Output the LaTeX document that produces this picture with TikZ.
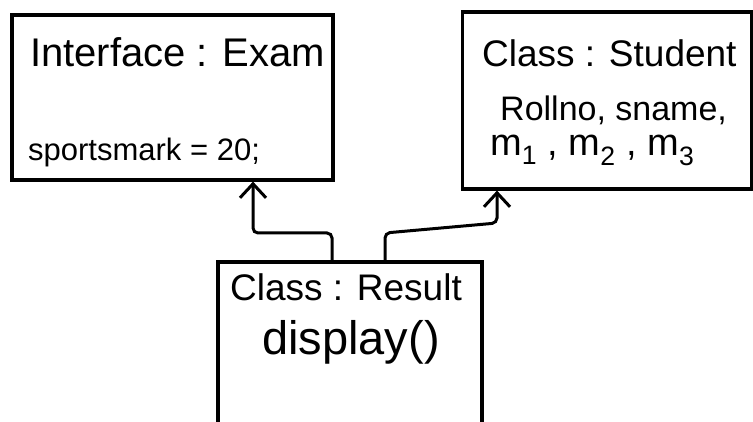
\documentclass[tikz,border=0pt]{standalone}
\usepackage{fontspec}
\setmainfont{Liberation Sans}
\usetikzlibrary{arrows.meta}
\tikzset{
  box/.style={draw=black, line width=3.2pt, rectangle, inner sep=0pt},
  conn/.style={draw=black, line width=3pt, rounded corners=5pt, -{Straight Barb[length=14pt,width=26pt,line width=3pt]}},
  lbl/.style={anchor=west, inner sep=0pt, text=black},
}
\begin{document}
\begin{tikzpicture}[x=1pt,y=-1pt]
\useasboundingbox[fill=white] (0,0) rectangle (753,422);
% boxes
\node[box, minimum width=321pt, minimum height=165pt] (exam) at (172.5,97.5) {};
\node[box, minimum width=289pt, minimum height=177pt] (student) at (607,100.5) {};
\node[box, minimum width=264pt, minimum height=180pt] (result) at (350,352) {};
% texts
\node[lbl] (t1) at (30,52) {\fontsize{40}{46}\selectfont Interface : Exam};
\node[lbl] (t2) at (28,152) {\fontsize{31}{36}\selectfont sportsmark = 20;};
\node[lbl] (t3) at (482,53) {\fontsize{37}{42}\selectfont Class : Student};
\node[lbl] (t4) at (500,110) {\fontsize{34}{40}\selectfont Rollno, sname,};
\node[lbl] (t5) at (490,150) {\fontsize{38}{44}\selectfont m\textsubscript{1} , m\textsubscript{2} , m\textsubscript{3}};
\node[lbl] (t6) at (230,287) {\fontsize{37}{42}\selectfont Class : Result};
\node[lbl] (t7) at (262,342) {\fontsize{47}{52}\selectfont display()};
% connector waypoints
\coordinate (a1) at (332,233);
\coordinate (a2) at (253,233);
\coordinate (b1) at (385,233);
\coordinate (b2) at (497,223);
\draw[conn] (result.north -| a1) -- (a1) -- (a2) -- (a2 |- exam.south);
\draw[conn] (result.north -| b1) -- (b1) -- (b2) -- (b2 |- student.south);
\end{tikzpicture}
\end{document}
